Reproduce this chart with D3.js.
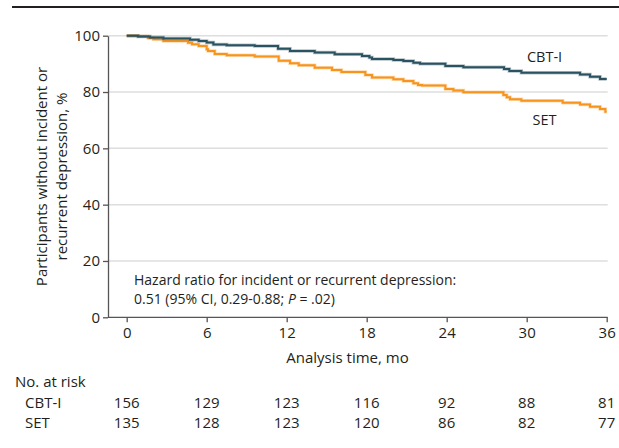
<!DOCTYPE html>
<html>
<head>
<meta charset="utf-8">
<script src="https://cdn.jsdelivr.net/npm/d3@7"></script>
<style>
  body { margin: 0; background: #fff; }
  svg text { font-family: "Open Sans", sans-serif; fill: #231f20; }
</style>
</head>
<body>
<svg id="chart" width="619" height="448"></svg>
<script>
// x axis months and y axis ticks
const months = [0, 6, 12, 18, 24, 30, 36];
const yTicks = [0, 20, 40, 60, 80, 100];

// Kaplan-Meier steps (time in months, % without depression)
const cbtTime = [0, 0.85, 1.75, 2.75, 4.75, 5.4, 6.0, 6.5, 7.5, 9.6, 11.35, 12.25, 14.1, 15.6, 17.65, 18.2, 18.4, 20.0, 20.75, 21.5, 22.0, 23.9, 25.25, 28.3, 28.7, 29.6, 34.0, 34.75, 35.5, 36];
const cbtSurv = [100, 99.7, 99.4, 99.0, 98.6, 98.1, 97.6, 96.9, 96.6, 96.3, 95.4, 94.6, 94.0, 93.4, 92.8, 92.3, 91.7, 91.4, 91.0, 90.4, 90.0, 89.2, 88.8, 88.2, 87.5, 86.8, 86.2, 85.4, 84.6, 84.6];

const setTime = [0, 0.87, 1.6, 2.0, 2.75, 4.6, 4.9, 5.4, 6.0, 6.1, 6.6, 7.5, 9.6, 11.4, 12.25, 12.9, 14.1, 15.4, 16.1, 17.9, 18.4, 20.0, 20.75, 21.5, 21.85, 22.15, 23.9, 24.5, 25.25, 28.25, 28.5, 28.75, 29.6, 32.7, 34.0, 34.75, 35.5, 35.9, 36];
const setSurv = [100, 99.8, 99.2, 98.7, 98.1, 97.5, 97.0, 96.3, 95.2, 94.6, 93.5, 93.1, 92.6, 91.1, 90.2, 89.5, 88.65, 87.8, 87.1, 86.0, 85.2, 84.5, 83.9, 83.1, 82.5, 82.3, 81.1, 80.5, 79.9, 78.9, 78.1, 77.4, 76.9, 76.2, 75.6, 74.8, 74.0, 73.0, 73.0];

// number at risk table
const groups = ["CBT-I", "SET"];
const cbtRisk = [156, 129, 123, 116, 92, 88, 81];
const setRisk = [135, 128, 123, 120, 86, 82, 77];

const svg = d3.select("#chart");
const axisX0 = 108; // where the y axis sits
const fs = 15;

const x = d3.scaleLinear().domain([0, 36]).range([126.7, 606.7]);
const y = d3.scaleLinear().domain([0, 100]).range([317.3, 35.7]);

// top rule
svg.append("line")
  .attr("x1", 12).attr("x2", 619).attr("y1", 7).attr("y2", 7)
  .attr("stroke", "#231f20").attr("stroke-width", 2);

// grid
svg.append("g").selectAll("line")
  .data(yTicks.filter(d => d > 0))
  .join("line")
  .attr("x1", axisX0).attr("x2", x(36) + 1)
  .attr("y1", d => y(d)).attr("y2", d => y(d))
  .attr("stroke", "#dedede").attr("stroke-width", 1.5);

// y axis
const yAxis = svg.append("g")
  .attr("transform", `translate(${axisX0},0)`)
  .call(d3.axisLeft(y).tickValues(yTicks).tickSize(5).tickSizeOuter(0).tickPadding(3));
yAxis.select(".domain").attr("stroke", "#555").attr("stroke-width", 1.3);
yAxis.selectAll(".tick line").attr("stroke", "#555").attr("stroke-width", 1.3);
yAxis.selectAll(".tick text").attr("font-size", fs).attr("fill", "#231f20");

// x axis
const xAxis = svg.append("g")
  .attr("transform", `translate(0,${y(0)})`)
  .call(d3.axisBottom(x).tickValues(months).tickSize(5).tickPadding(5));
xAxis.select(".domain").remove();
xAxis.append("line")
  .attr("x1", axisX0).attr("x2", x(36) + 1)
  .attr("stroke", "#555").attr("stroke-width", 1.3);
xAxis.selectAll(".tick line").attr("stroke", "#555").attr("stroke-width", 1.3);
xAxis.selectAll(".tick text").attr("font-size", fs).attr("fill", "#231f20");

// curves
const line = d3.line()
  .x(d => x(d[0]))
  .y(d => y(d[1]))
  .curve(d3.curveStepAfter);

const series = [
  { name: "SET", pts: d3.zip(setTime, setSurv), color: "#f7941d" },
  { name: "CBT-I", pts: d3.zip(cbtTime, cbtSurv), color: "#2b5260" }
];

series.forEach(function(s) {
  svg.append("path")
    .attr("d", line(s.pts))
    .attr("fill", "none")
    .attr("stroke", s.color)
    .attr("stroke-opacity", 0.35)
    .attr("stroke-width", 3.5);
  svg.append("path")
    .attr("d", line(s.pts))
    .attr("fill", "none")
    .attr("stroke", s.color)
    .attr("stroke-width", 2);
});

// series labels
svg.append("text").attr("x", 544.5).attr("y", 62).attr("text-anchor", "middle")
  .attr("font-size", 14.5).text("CBT-I");
svg.append("text").attr("x", 544.5).attr("y", 125).attr("text-anchor", "middle")
  .attr("font-size", 14.5).text("SET");

// y label
const yl = svg.append("text")
  .attr("transform", "translate(0,176.5) rotate(-90)")
  .attr("text-anchor", "middle")
  .attr("font-size", fs);
yl.append("tspan").attr("x", 0).attr("y", 47).text("Participants without incident or");
yl.append("tspan").attr("x", 0).attr("y", 67).text("recurrent depression, %");

// x label
svg.append("text")
  .attr("x", 347.5).attr("y", 363)
  .attr("text-anchor", "middle")
  .attr("font-size", fs)
  .text("Analysis time, mo");

// hazard note
svg.append("text").attr("x", 134).attr("y", 285).attr("font-size", 14)
  .text("Hazard ratio for incident or recurrent depression:");
const hr = svg.append("text").attr("x", 134).attr("y", 304).attr("font-size", 14);
hr.append("tspan").text("0.51 (95% CI, 0.29-0.88; ");
hr.append("tspan").attr("font-style", "italic").text("P");
hr.append("tspan").text(" = .02)");

// risk table
svg.append("text").attr("x", 15).attr("y", 387).attr("font-size", fs).text("No. at risk");
[cbtRisk, setRisk].forEach(function(row, i) {
  const yy = 408 + i * 20;
  svg.append("text").attr("x", 25).attr("y", yy).attr("font-size", fs).text(groups[i]);
  svg.append("g").selectAll("text")
    .data(row)
    .join("text")
    .attr("x", (d, j) => x(months[j]))
    .attr("y", yy)
    .attr("text-anchor", "middle")
    .attr("font-size", fs)
    .text(d => d);
});
</script>
</body>
</html>
